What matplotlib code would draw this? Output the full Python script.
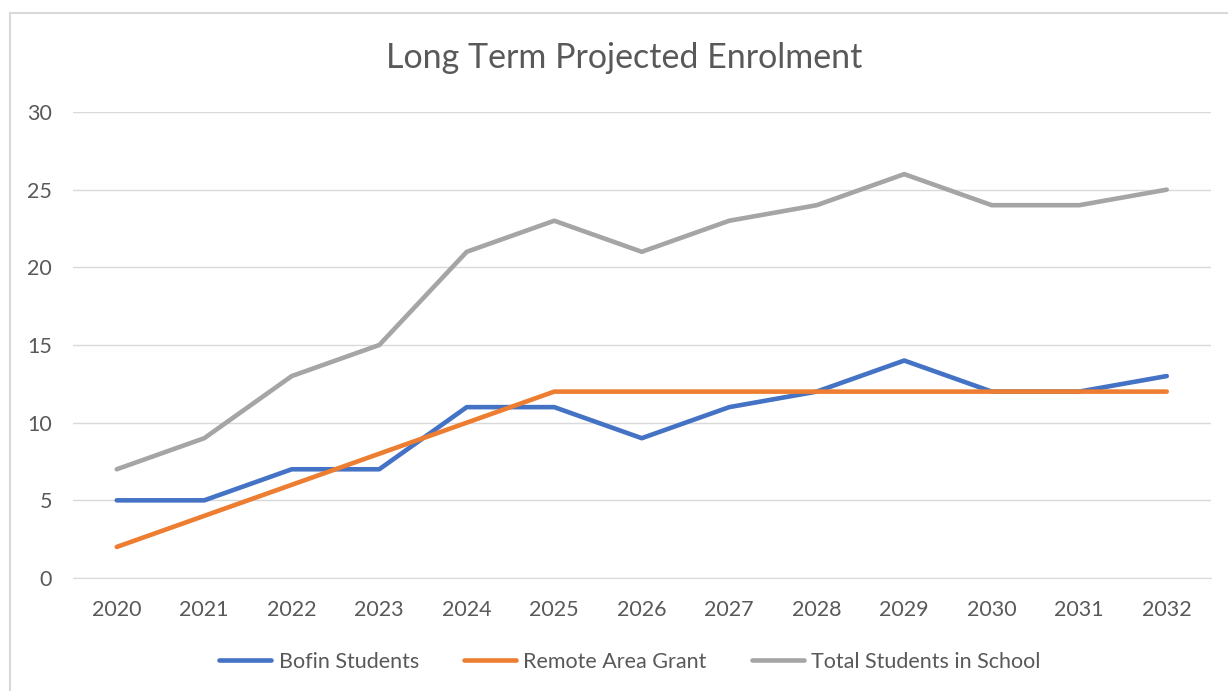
import matplotlib.pyplot as plt
from matplotlib.lines import Line2D

years = ["2020", "2021", "2022", "2023", "2024", "2025", "2026",
         "2027", "2028", "2029", "2030", "2031", "2032"]
bofin = [5, 5, 7, 7, 11, 11, 9, 11, 12, 14, 12, 12, 13]
remote = [2, 4, 6, 8, 10, 12, 12, 12, 12, 12, 12, 12, 12]
total = [7, 9, 13, 15, 21, 23, 21, 23, 24, 26, 24, 24, 25]

plt.rcParams["font.family"] = ["Lato", "DejaVu Sans"]
txt = "#595959"

fig = plt.figure(figsize=(12.28, 6.91), dpi=100)
# chart frame, cropped: only top and left edges show
fig.lines.append(Line2D([9.5 / 1228, 1.0], [1 - 13 / 691] * 2, transform=fig.transFigure,
                        color="#d9d9d9", lw=1.5))
fig.lines.append(Line2D([9.5 / 1228] * 2, [0, 1 - 13 / 691], transform=fig.transFigure,
                        color="#d9d9d9", lw=1.5))

ax = fig.add_axes([73 / 1228, 1 - 578 / 691, 1137.5 / 1228, 466 / 691])
x = range(len(years))
kw = dict(lw=3.3, solid_joinstyle="round", solid_capstyle="round")
ax.plot(x, bofin, color="#4472C4", label="Bofin Students", **kw)
ax.plot(x, remote, color="#ED7D31", label="Remote Area Grant", **kw)
ax.plot(x, total, color="#A5A5A5", label="Total Students in School", **kw)

ax.set_xlim(-0.5, 12.5)
ax.set_ylim(0, 30)
ax.set_yticks(range(0, 31, 5))
ax.set_xticks(list(x))
ax.set_xticklabels(years)
ax.grid(axis="y", color="#d9d9d9", lw=1)
ax.set_axisbelow(True)
for s in ["top", "right", "left"]:
    ax.spines[s].set_visible(False)
ax.spines["bottom"].set_color("#d9d9d9")
ax.tick_params(length=0, labelsize=15.5, colors=txt)
ax.tick_params(axis="x", pad=16)
ax.tick_params(axis="y", pad=15)

fig.text(624 / 1228, 1 - 58 / 691, "Long Term Projected Enrolment", ha="center", va="center",
         fontsize=24.5, color=txt)
fig.legend(loc="center", bbox_to_anchor=(0.513, 1 - 662 / 691), ncol=3, frameon=False,
           fontsize=15.5, labelcolor=txt, handlelength=2.4, columnspacing=2.1,
           handletextpad=0.35)

fig.savefig("out.png", dpi=100)
